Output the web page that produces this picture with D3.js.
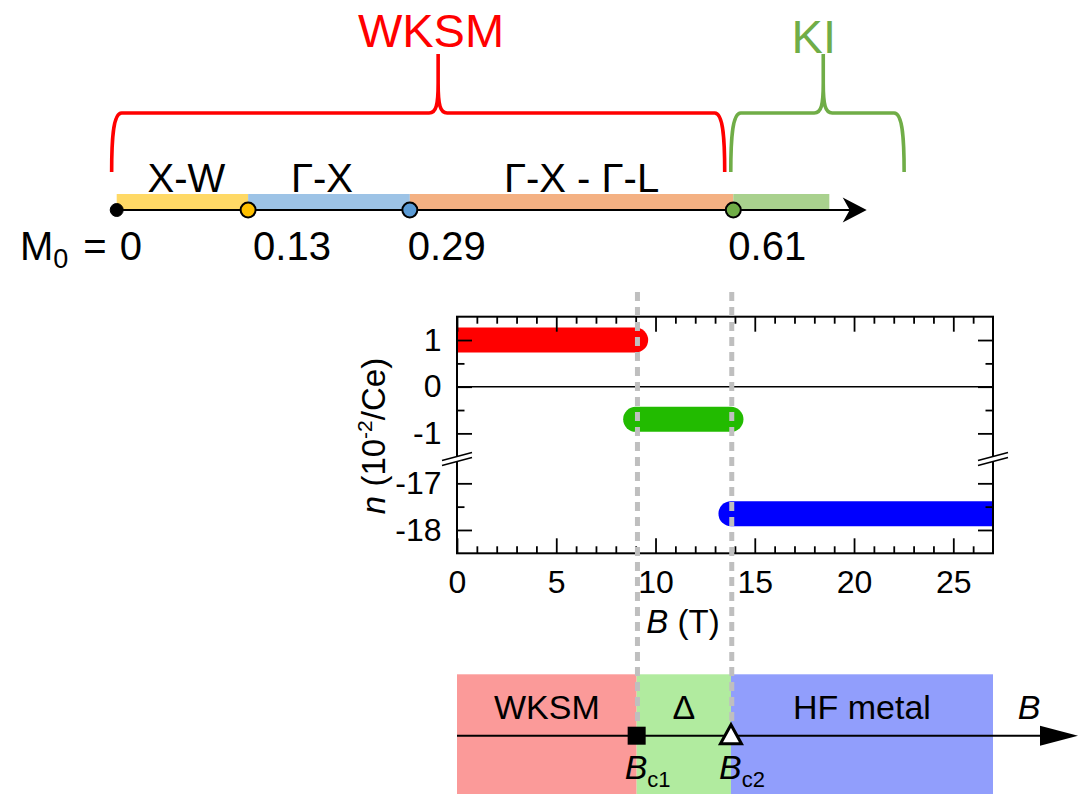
<!DOCTYPE html>
<html><head><meta charset="utf-8">
<script src="https://cdn.jsdelivr.net/npm/d3@7"></script>
<style>
body{margin:0;background:#fff}
text{font-family:"Liberation Sans",Arial,sans-serif;fill:#000}
</style>
</head><body>
<svg id="c" width="1089" height="794"></svg>
<script>
// ---------- data ----------
const m0Values = [0, 0.13, 0.29, 0.61];
const m0Labels = ["0", "0.13", "0.29", "0.61"];
const m0End = 0.705;
const bandNames = ["X-W", "Γ-X", "Γ-X - Γ-L", ""];
const bandColors = ["#FFD966", "#9DC3E6", "#F4B183", "#A9D18E"];
const dotColors = ["#000000", "#FFC000", "#5B9BD5", "#70AD47"];
const braceNames = ["WKSM", "KI"];
const braceFrom = [-0.005, 0.6075];
const braceTo = [0.6015, 0.779];
const braceTip = [0.318, 0.699];
const braceColors = ["#FF0000", "#70AD47"];

const xTicks = [0, 5, 10, 15, 20, 25];
const yTicksUpper = [1, 0, -1];
const yTicksLower = [-17, -18];
const seriesB0 = [0, 9.0, 13.8];
const seriesB1 = [9.0, 13.8, 27];
const seriesN = [1.0, -0.7, -17.65];
const seriesColors = ["#FF0000", "#22BB00", "#0000FF"];
const Bc = [9.05, 13.8];
const phaseNames = ["WKSM", "Δ", "HF metal"];
const phaseColors = ["#FB9A99", "#B1EB9F", "#919EFC"];

// ---------- setup ----------
const svg = d3.select("#c");
const FONT = "Liberation Sans, Arial, sans-serif";

// ================= TOP: M0 diagram =================
const m = d3.scaleLinear().domain([0, 0.61]).range([116.7, 733.3]);
const axY = 210;
const gTop = svg.append("g");

// bands
const bandEdges = m0Values.concat([m0End]);
bandColors.forEach((c, i) => {
  gTop.append("rect").attr("x", m(bandEdges[i])).attr("y", 194)
    .attr("width", m(bandEdges[i + 1]) - m(bandEdges[i])).attr("height", axY - 194)
    .attr("fill", c);
});
// band labels
const bandDx = [4, -7, 10, 0];
bandNames.forEach((n, i) => {
  if (!n) return;
  gTop.append("text").attr("x", (m(bandEdges[i]) + m(bandEdges[i + 1])) / 2 + bandDx[i])
    .attr("y", 192).attr("text-anchor", "middle").attr("font-size", 40).text(n);
});
// axis line + arrow
const tipX = 866.7;
gTop.append("line").attr("x1", m(0)).attr("x2", tipX - 6).attr("y1", axY).attr("y2", axY)
  .attr("stroke", "#000").attr("stroke-width", 2.2);
gTop.append("path").attr("d", `M${tipX},${axY} L${tipX - 24},${axY - 12.5} L${tipX - 17},${axY} L${tipX - 24},${axY + 12.5} Z`)
  .attr("fill", "#000");
// dots
m0Values.forEach((v, i) => {
  gTop.append("circle").attr("cx", m(v)).attr("cy", axY).attr("r", i === 0 ? 6.5 : 7.5)
    .attr("fill", dotColors[i]).attr("stroke", "#000").attr("stroke-width", i === 0 ? 1 : 2);
});
// labels
const lblDx = [0, 5, -2, -5];
m0Labels.forEach((l, i) => {
  if (i === 0) {
    const t = gTop.append("text").attr("x", 20).attr("y", 260).attr("font-size", 40);
    t.append("tspan").text("M");
    t.append("tspan").attr("font-size", 27).attr("dy", 8).text("0");
    gTop.append("text").attr("x", 95).attr("y", 260).attr("text-anchor", "middle").attr("font-size", 40).text("=");
    gTop.append("text").attr("x", 142).attr("y", 260).attr("text-anchor", "end").attr("font-size", 40).text(l);
  } else {
    gTop.append("text").attr("x", m(m0Values[i]) + lblDx[i]).attr("y", 260)
      .attr("font-size", 40).text(l);
  }
});
// braces
const yB = 172, yH = 113, yT = 54;
braceNames.forEach((n, i) => {
  const x0 = m(braceFrom[i]), x1 = m(braceTo[i]), xm = m(braceTip[i]);
  const d = `M${x0},${yB} C${x0},${yH + 30} ${x0 + 1},${yH} ${x0 + 10},${yH}
    L${xm - 9},${yH} C${xm - 2},${yH} ${xm},${yH - 8} ${xm},${yH - 30} L${xm},${yT}
    M${xm},${yH - 30} C${xm},${yH - 8} ${xm + 2},${yH} ${xm + 9},${yH}
    L${x1 - 10},${yH} C${x1 - 1},${yH} ${x1},${yH + 30} ${x1},${yB}`;
  gTop.append("path").attr("d", d).attr("fill", "none").attr("stroke", braceColors[i])
    .attr("stroke-width", 3.6);
});
gTop.append("text").attr("x", 431).attr("y", 47).attr("text-anchor", "middle")
  .attr("font-size", 47).style("fill", braceColors[0]).text(braceNames[0]);
gTop.append("text").attr("x", 836).attr("y", 53).attr("text-anchor", "end")
  .attr("font-size", 47).style("fill", braceColors[1]).text(braceNames[1]);

// ================= MIDDLE: n vs B plot =================
const x = d3.scaleLinear().domain([0, 27]).range([457, 993]);
const yU = d3.scaleLinear().domain([-1.5, 1.5]).range([456.7, 316.7]);
const yL = d3.scaleLinear().domain([-18.5, -16.5]).range([553.3, 460]);
const yOf = v => v > -5 ? yU(v) : yL(v);
const pTop = 316.7, pBot = 553.3, pL = 457, pR = 993;
const mid = svg.append("g");

svg.append("defs").append("clipPath").attr("id", "clip").append("rect")
  .attr("x", pL).attr("y", pTop).attr("width", pR - pL).attr("height", pBot - pTop);

// zero line
mid.append("line").attr("x1", pL).attr("x2", pR).attr("y1", yU(0)).attr("y2", yU(0))
  .attr("stroke", "#000").attr("stroke-width", 1.6);

// bars
const bars = mid.append("g").attr("clip-path", "url(#clip)");
seriesN.forEach((n, i) => {
  bars.append("line").attr("x1", x(seriesB0[i])).attr("x2", x(seriesB1[i]))
    .attr("y1", yOf(n)).attr("y2", yOf(n))
    .attr("stroke", seriesColors[i]).attr("stroke-width", 25).attr("stroke-linecap", "round");
});

// axes
const styleAxis = g => {
  g.select(".domain").remove();
  g.selectAll(".tick line").attr("stroke", "#000").attr("stroke-width", 1.8);
  g.selectAll(".tick text").attr("font-size", 32).attr("font-family", FONT).attr("fill", "#000");
};
const xMinor = d3.range(1, 27).filter(v => v % 5 !== 0);
mid.append("g").attr("transform", `translate(0,${pBot})`)
  .call(d3.axisBottom(x).tickValues(xTicks).tickSizeInner(-15).tickSizeOuter(0).tickPadding(16.5).tickFormat(d3.format("d")))
  .call(styleAxis);
mid.append("g").attr("transform", `translate(0,${pBot})`)
  .call(d3.axisBottom(x).tickValues(xMinor).tickSizeInner(-7).tickSizeOuter(0).tickFormat(""))
  .call(styleAxis);
mid.append("g").attr("transform", `translate(0,${pTop})`)
  .call(d3.axisTop(x).tickValues(xTicks).tickSizeInner(-15).tickSizeOuter(0).tickFormat(""))
  .call(styleAxis);
mid.append("g").attr("transform", `translate(0,${pTop})`)
  .call(d3.axisTop(x).tickValues(xMinor).tickSizeInner(-7).tickSizeOuter(0).tickFormat(""))
  .call(styleAxis);

const yUMinor = [0.5, -0.5], yLMinor = [-17.5];
[[yU, yTicksUpper, yUMinor], [yL, yTicksLower, yLMinor]].forEach(([sc, maj, mn]) => {
  mid.append("g").attr("transform", `translate(${pL},0)`)
    .call(d3.axisLeft(sc).tickValues(maj).tickSizeInner(-15).tickSizeOuter(0).tickPadding(15.5).tickFormat(d3.format("d")))
    .call(styleAxis);
  mid.append("g").attr("transform", `translate(${pL},0)`)
    .call(d3.axisLeft(sc).tickValues(mn).tickSizeInner(-7.5).tickSizeOuter(0).tickFormat(""))
    .call(styleAxis);
  mid.append("g").attr("transform", `translate(${pR},0)`)
    .call(d3.axisRight(sc).tickValues(maj).tickSizeInner(-15).tickSizeOuter(0).tickFormat(""))
    .call(styleAxis);
  mid.append("g").attr("transform", `translate(${pR},0)`)
    .call(d3.axisRight(sc).tickValues(mn).tickSizeInner(-7.5).tickSizeOuter(0).tickFormat(""))
    .call(styleAxis);
});
mid.selectAll(".tick text").text(function () { return this.textContent.replace("−", "-"); });

// frame
mid.append("rect").attr("x", pL).attr("y", pTop).attr("width", pR - pL).attr("height", pBot - pTop)
  .attr("fill", "none").attr("stroke", "#000").attr("stroke-width", 2);

// axis breaks
const ybr = 459;
[pL, pR].forEach(xa => {
  const o = 2.6, hw = 15, s = 4;
  mid.append("path").attr("d",
    `M${xa - hw},${ybr + s - o} L${xa + hw},${ybr - s - o} L${xa + hw},${ybr - s + o} L${xa - hw},${ybr + s + o} Z`)
    .attr("fill", "#fff");
  [-o, o].forEach(dd => {
    mid.append("line").attr("x1", xa - hw).attr("y1", ybr + s + dd).attr("x2", xa + hw).attr("y2", ybr - s + dd)
      .attr("stroke", "#000").attr("stroke-width", 1.6);
  });
});

// axis labels
const yl = mid.append("text").attr("transform", "translate(385,436) rotate(-90)")
  .attr("text-anchor", "middle").attr("font-size", 33);
yl.append("tspan").attr("font-style", "italic").text("n");
yl.append("tspan").text(" (10");
yl.append("tspan").attr("font-size", 21).attr("dy", -13).text("-2");
yl.append("tspan").attr("dy", 13).text("/Ce)");

const xl = mid.append("text").attr("x", 683).attr("y", 632.7).attr("text-anchor", "middle").attr("font-size", 33);
xl.append("tspan").attr("font-style", "italic").text("B");
xl.append("tspan").text(" (T)");

// ================= BOTTOM: phase diagram =================
const bot = svg.append("g");
const pEdges = [0, Bc[0], Bc[1], 27];
const rTop = 674.3, bAx = 735.7;
phaseColors.forEach((c, i) => {
  bot.append("rect").attr("x", x(pEdges[i])).attr("y", rTop)
    .attr("width", x(pEdges[i + 1]) - x(pEdges[i])).attr("height", 794 - rTop).attr("fill", c);
  bot.append("text").attr("x", (x(pEdges[i]) + x(pEdges[i + 1])) / 2).attr("y", 719)
    .attr("text-anchor", "middle").attr("font-size", 34).text(phaseNames[i]);
});

// dashed lines (on top of plot and diagram)
Bc.forEach(b => {
  svg.append("line").attr("x1", x(b) + 0.8).attr("x2", x(b) + 0.8).attr("y1", 292).attr("y2", 724)
    .attr("stroke", "#BFBFBF").attr("stroke-width", 5).attr("stroke-dasharray", "9,6");
});

const bTip = 1078;
bot.append("line").attr("x1", x(0)).attr("x2", bTip - 10).attr("y1", bAx).attr("y2", bAx)
  .attr("stroke", "#000").attr("stroke-width", 2);
bot.append("path").attr("d", `M${bTip},${bAx} L${bTip - 38},${bAx - 10} L${bTip - 38},${bAx + 10} Z`).attr("fill", "#000");
bot.append("text").attr("x", 1029).attr("y", 719).attr("text-anchor", "middle")
  .attr("font-size", 34).attr("font-style", "italic").text("B");

// markers
bot.append("rect").attr("x", x(Bc[0]) - 9).attr("y", bAx - 9).attr("width", 18).attr("height", 18).attr("fill", "#000");
const tx = x(Bc[1]);
bot.append("path").attr("d", `M${tx},${bAx - 11} L${tx - 10.5},${bAx + 8} L${tx + 10.5},${bAx + 8} Z`)
  .attr("fill", "#fff").attr("stroke", "#000").attr("stroke-width", 3).attr("stroke-linejoin", "miter");

// Bc labels
["c1", "c2"].forEach((s, i) => {
  const t = bot.append("text").attr("x", x(Bc[i]) - 12).attr("y", 779).attr("font-size", 34);
  t.append("tspan").attr("font-style", "italic").text("B");
  t.append("tspan").attr("font-size", 22).attr("dy", 8).text(s);
});
</script>
</body></html>
